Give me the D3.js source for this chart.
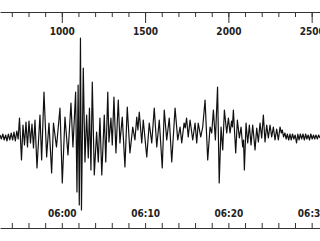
<!DOCTYPE html>
<html>
<head>
<meta charset="utf-8">
<script src="https://cdn.jsdelivr.net/npm/d3@7"></script>
<style>
  html, body { margin: 0; padding: 0; background: #fff; }
  svg { display: block; }
  .axis text { font-family: "Liberation Sans Narrow", "DejaVu Sans Condensed", sans-serif; font-size: 10px; font-weight: bold; fill: #222; }
  .axis path, .axis line { stroke: #333; }
</style>
</head>
<body>
<div id="chart"></div>
<script>
// seismogram trace: sample number and amplitude (counts)
const samples = [
  629, 637, 646, 654, 663, 671, 679, 688, 696, 705, 713, 721, 730, 738,
  746, 758, 767, 776, 785, 794, 803, 812, 821, 830, 839, 851, 869, 879,
  893, 909, 923, 939, 950, 968, 989, 1003, 1019, 1037, 1055, 1067, 1083, 1091,
  1098, 1105, 1112, 1118, 1129, 1139, 1149, 1159, 1166, 1175, 1183, 1195, 1209, 1219,
  1229, 1240, 1255, 1264, 1276, 1283, 1295, 1303, 1313, 1325, 1339, 1349, 1363, 1379,
  1393, 1409, 1426, 1439, 1450, 1457, 1465, 1480, 1489, 1510, 1525, 1540, 1555, 1570,
  1585, 1603, 1615, 1630, 1645, 1660, 1680, 1696, 1710, 1720, 1734, 1741, 1749, 1759,
  1770, 1786, 1800, 1810, 1819, 1834, 1846, 1860, 1876, 1890, 1900, 1910, 1922, 1935,
  1945, 1956, 1966, 1976, 1990, 2000, 2010, 2019, 2024, 2030, 2044, 2054, 2066, 2076,
  2086, 2091, 2096, 2106, 2116, 2126, 2136, 2146, 2160, 2170, 2180, 2190, 2200, 2210,
  2220, 2230, 2240, 2250, 2260, 2270, 2280, 2290, 2300, 2310, 2318, 2324, 2331, 2339,
  2347, 2354, 2362, 2370, 2377, 2385, 2393, 2401, 2409, 2417, 2424, 2432, 2440, 2448,
  2456, 2464, 2471, 2479, 2487, 2495, 2503, 2511, 2518, 2526, 2534, 2542, 2550
];
const counts = [
  20, -20, 30, -30, 20, -40, 30, -30, 40, -30, 50, -40, 60, -20,
  190, -230, 120, -80, 150, -100, 160, -60, 130, -110, 170, -310, 220, -230,
  450, -200, 140, -360, 140, -100, 290, -460, 200, -180, 340, -100, 450, -550,
  520, -680, 990, -730, 690, -250, 220, -210, 290, -330, 550, -380, 50, -250,
  190, -380, 220, -250, 450, -50, 190, -80, 400, -160, 370, -60, 200, -300,
  300, -160, 100, -30, 200, 70, 250, -60, 170, -200, 140, -60, 290, -100,
  170, -310, 270, -30, 190, -250, 290, -30, 100, -60, 140, 90, 190, 0,
  170, -30, 140, -60, 140, 0, 100, 370, -230, 100, 40, 270, -30, 500,
  -460, 100, -130, 270, 40, 190, 40, 160, 100, 270, -160, 170, -10, 100,
  -100, -30, -330, 140, -60, 120, -80, 120, -130, 90, -50, 140, -10, 220,
  -50, 120, -10, 120, 0, 100, -30, 80, -30, 100, 40, 70, 0, 40,
  -20, 30, -30, 30, -30, 30, -20, 20, -60, 30, -30, 30, -20, 30,
  -30, 30, -20, 20, -30, 30, -20, 20, -20, 20, -20, 20, -10
];
const sampleMajor = [1000, 1500, 2000, 2500];
const sampleMinor = [700, 800, 900, 1000, 1100, 1200, 1300, 1400, 1500, 1600, 1700, 1800, 1900, 2000, 2100, 2200, 2300, 2400, 2500];
const timeLabels = ["06:00", "06:10", "06:20", "06:30"];
const timeDomain = [new Date("2020-01-01T05:52:34.8Z"), new Date("2020-01-01T06:31:00Z")];

const W = 320, H = 241;
const svg = d3.select("#chart").append("svg").attr("width", W).attr("height", H);

const x = d3.scaleLinear().domain([629, 2550]).range([0, W]);
const y = d3.scaleLinear().domain([-1000, 1000]).range([237, 37]);
const t = d3.scaleUtc().domain(timeDomain).range([0, W]);

// top axis: sample number
svg.append("g").attr("class", "axis")
  .attr("transform", "translate(0,12)")
  .call(d3.axisBottom(x).tickValues(sampleMinor).tickSize(5).tickSizeOuter(0).tickFormat(""));
svg.append("g").attr("class", "axis")
  .attr("transform", "translate(0,12)")
  .call(d3.axisBottom(x).tickValues(sampleMajor).tickSize(11).tickSizeOuter(0).tickPadding(5).tickFormat(d3.format("d")))
  .call(g => g.select(".domain").remove());

// bottom axis: clock time
svg.append("g").attr("class", "axis")
  .attr("transform", "translate(0,228)")
  .call(d3.axisTop(t).ticks(d3.utcMinute.every(2)).tickSize(5).tickSizeOuter(0).tickPadding(6)
    .tickFormat(d => d.getUTCMinutes() % 10 === 0 ? timeLabels[(d.getUTCMinutes() / 10) % 4] : ""));

// trace
const line = d3.line().x((d, i) => x(samples[i])).y(d => y(d));
svg.append("path")
  .datum(counts)
  .attr("d", line)
  .attr("fill", "none")
  .attr("stroke", "#111")
  .attr("stroke-width", 1.2)
  .attr("stroke-linejoin", "round");
</script>
</body>
</html>
